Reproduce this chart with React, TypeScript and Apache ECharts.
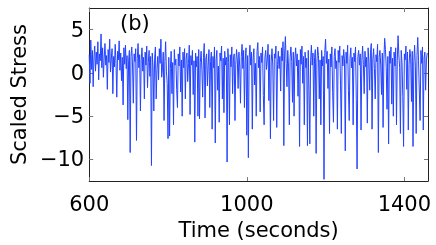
import React, { useEffect, useRef } from "react";
import * as echarts from "echarts";

const startTime = 600;
const timeStep = 2;
const stress: number[] = [
  2.1, -1.2, 3.8, 0.4, 2.6, -1.6, 1.8, 3.1, 0.2, 2.4, 1.0, 3.6, -0.8, 2.2, 1.4, 4.5, 0.6, 2.9, -0.5, 1.7,
  3.4, 0.9, 2.0, -1.9, 2.7, 1.2, 3.9, 0.1, 1.6, 2.8, -2.4, 1.9, 0.7, 3.3, 1.1, -2.8, 2.5, 1.5, 3.7, 0.3,
  2.3, -0.9, 1.8, -3.7, 2.9, 1.0, 3.2, 0.5, 2.0, -5.4, 1.4, 2.6, -9.2, 1.9, 3.0, 0.8, -3.5, 2.2, 1.3, 2.8,
  -7.8, 1.7, 3.4, 0.6, 2.1, -4.4, 1.5, 2.9, 0.2, 1.8, -3.0, 2.4, 0.9, 3.1, -1.7, 1.2, 2.6, -0.4, 1.9, -10.7,
  2.3, 0.7, -4.4, 1.6, 3.0, -3.0, 0.4, 1.9, -0.8, 2.8, 1.1, 3.9, -0.5, 0.6, 2.4, -5.5, 1.3, 3.6, 0.2, -1.2,
  -7.6, 1.8, -7.3, 0.5, 2.5, -2.4, 1.2, -6.0, 2.7, 0.9, 1.6, -1.9, -4.0, 2.2, 0.8, 3.0, -2.2, 1.5, -5.0, 2.4,
  0.6, 2.8, -3.0, 1.7, 2.3, -1.0, 1.1, 3.2, -4.8, 2.0, 0.9, 2.6, -2.5, 1.4, -8.0, 2.3, 0.7, 1.9, -5.0, 2.7,
  -5.3, 1.2, 2.5, 0.4, -2.8, 1.8, 3.4, -5.2, 1.6, 2.2, -1.5, 0.9, 2.7, -4.0, 1.3, 2.4, -6.5, 1.9, 0.6, 3.0,
  -8.1, 1.5, 2.6, -2.0, 0.8, -5.7, 2.3, 1.4, 3.1, -3.0, 1.7, -4.6, 2.5, 0.9, 1.8, -10.3, 2.8, 1.2, -6.0, 2.1,
  0.7, 3.0, -2.4, 1.6, 2.2, -5.5, 1.0, 2.7, 1.5, -1.8, 2.4, 0.8, -3.5, 1.9, 3.3, 0.5, 2.6, -4.0, 1.4, 2.9,
  -7.2, 2.0, -9.8, 1.7, 3.2, 0.9, 2.4, -6.5, 1.6, 2.8, -1.4, 1.1, -5.0, 2.5, 3.5, 0.6, 1.9, -4.5, 2.3, 1.2,
  3.0, -2.6, -6.0, 1.8, 2.6, 0.4, 1.5, 3.3, -3.2, 2.1, -7.6, 1.3, 2.8, 0.8, -5.5, 2.2, 1.7, 3.1, -6.3, 1.0,
  2.5, 0.5, 1.9, -2.1, 2.9, 1.4, 3.6, -8.4, 2.2, 4.2, 1.1, -1.6, 2.6, 0.7, -6.0, 1.8, 3.0, 1.3, -3.4, 2.4,
  -5.0, 1.6, 2.9, 0.8, 2.2, -2.7, 1.5, -8.5, 2.7, 1.0, 3.1, -1.2, 1.9, -6.0, 2.4, 0.6, 1.7, -8.4, 2.6, -2.0,
  -8.2, 1.4, 3.2, 0.9, 2.3, -5.0, 1.8, 2.7, -9.3, 1.2, 3.0, 2.0, -3.0, 1.5, -6.0, 2.6, 0.8, 1.9, -12.3, 2.4,
  3.9, 1.1, 2.5, -1.8, 1.6, -7.0, 2.2, 0.7, 3.0, -2.3, -5.7, 1.9, 2.8, 0.5, 1.4, -6.5, 2.6, 1.2, 3.1, -1.5,
  -7.0, 2.0, 0.8, 2.7, 1.5, -9.0, 2.4, 1.1, 3.2, -2.0, -5.5, 1.7, 2.9, 0.6, 1.8, -6.0, 2.3, 1.3, 3.0, -3.1,
  -11.1, 1.9, 2.6, 0.9, 2.2, -6.6, 1.4, 3.1, 1.0, -2.4, 2.5, 0.7, 1.8, -5.8, 2.9, 1.2, -2.0, 2.4, 3.4, -6.5,
  1.6, 2.8, 0.5, -3.0, 2.1, 1.3, 3.3, -9.2, 1.8, 2.6, 0.9, -2.5, 2.3, -6.3, 1.5, 4.0, 2.7, 0.6, -4.2, 1.9,
  -8.2, 2.5, 1.1, 3.0, -3.6, 1.7, -5.0, 2.4, 0.8, 2.9, -6.0, 1.4, 4.3, 2.1, 0.6, -7.0, 2.6, 1.2, -2.7, -8.5,
  2.2, 1.5, 3.1, -1.9, 2.4, -6.6, 1.0, 2.7, 1.8, -3.3, 2.5, -8.5, 1.3, 3.2, 0.7, -7.0, 2.0, 4.1, 1.4, -2.2,
  -5.5, 2.6, 1.1, 3.0, -6.6, 1.7, 2.4, -2.0, 1.5, 2.3,
];
const xTicks = [600, 1000, 1400];
const yTicks = [-10, -5, 0, 5];
const panelLabel = "(b)";

const FONT = "DejaVu Sans, Liberation Sans, Arial, sans-serif";
const FS = 21;

export default function App() {
  const ref = useRef<HTMLDivElement>(null);
  useEffect(() => {
    if (!ref.current) return;
    const chart = echarts.init(ref.current, null, { renderer: "svg" });
    const data = stress.map((v, i) => [startTime + i * timeStep, v]);
    const minus = (v: number) => String(v).replace("-", "\u2212");
    const plain = (v: number) => String(v);
    const tickStyle = { show: true, inside: true, length: 4, lineStyle: { color: "#777", width: 1 } };
    const lineStyle = { show: true, onZero: false, lineStyle: { color: "#222", width: 1 } };
    chart.setOption({
      animation: false,
      grid: { left: 80, right: 8, top: 8, bottom: 60, containLabel: false },
      xAxis: [
        {
          type: "value",
          min: 600,
          max: 1460,
          interval: 400,
          name: "Time (seconds)",
          nameLocation: "middle",
          nameGap: 33,
          nameTextStyle: { fontFamily: FONT, fontSize: FS, color: "#000" },
          axisLine: lineStyle,
          axisTick: { ...tickStyle, customValues: xTicks },
          axisLabel: {
            customValues: xTicks,
            fontFamily: FONT,
            fontSize: FS,
            color: "#000",
            margin: 12,
            formatter: plain,
          },
          splitLine: { show: false },
        },
        {
          type: "value",
          position: "top",
          min: 600,
          max: 1460,
          interval: 400,
          axisLine: lineStyle,
          axisTick: { ...tickStyle, customValues: xTicks },
          axisLabel: { show: false },
          splitLine: { show: false },
        },
      ],
      yAxis: [
        {
          type: "value",
          min: -12.5,
          max: 7.5,
          name: "Scaled Stress",
          nameLocation: "middle",
          nameGap: 57,
          nameRotate: 90,
          nameTextStyle: { fontFamily: FONT, fontSize: FS, color: "#000" },
          axisLine: lineStyle,
          axisTick: { ...tickStyle, customValues: yTicks },
          axisLabel: {
            customValues: yTicks,
            fontFamily: FONT,
            fontSize: FS,
            color: "#000",
            margin: 5,
            formatter: minus,
          },
          splitLine: { show: false },
        },
        {
          type: "value",
          position: "right",
          min: -12.5,
          max: 7.5,
          axisLine: lineStyle,
          axisTick: { ...tickStyle, customValues: yTicks },
          axisLabel: { show: false },
          splitLine: { show: false },
        },
      ],
      graphic: [
        {
          type: "text",
          left: 120,
          top: 12,
          style: { text: panelLabel, fontFamily: FONT, fontSize: FS, fill: "#000" },
        },
      ],
      series: [
        {
          type: "line",
          data,
          xAxisIndex: 0,
          yAxisIndex: 0,
          showSymbol: false,
          symbol: "none",
          lineStyle: { color: "#2343ff", width: 1.0 },
        },
      ],
    });
    return () => chart.dispose();
  }, []);
  return (
    <div
      ref={ref}
      style={{ position: "fixed", left: 0, top: 0, width: 436, height: 245 }}
    />
  );
}
